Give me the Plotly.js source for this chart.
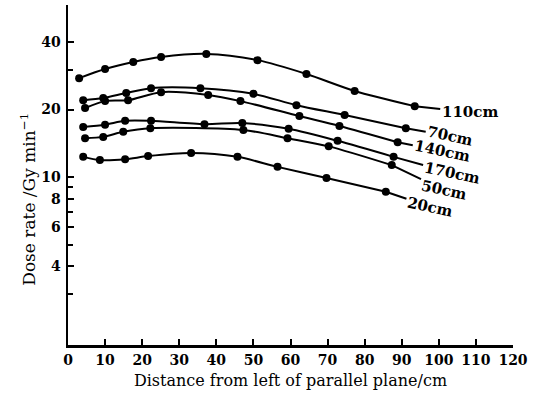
<!DOCTYPE html>
<html>
<head>
<meta charset="utf-8">
<script src="https://cdn.plot.ly/plotly-3.0.1.min.js"></script>
<style>html,body{margin:0;padding:0;background:#fff;}#chart{width:536px;height:397px;}</style>
</head>
<body>
<div id="chart"></div>
<script>
// Data (x: cm from left, y: dose rate Gy/min)
const seriesNames = ["110cm", "70cm", "140cm", "170cm", "50cm", "20cm"];
const x110 = [3.0, 10.0, 17.6, 25.1, 37.3, 51.1, 64.3, 77.3, 93.5];
const y110 = [27.6, 30.3, 32.6, 34.3, 35.4, 33.2, 28.8, 24.2, 20.7];
const x70 = [4.1, 9.5, 15.7, 22.4, 35.7, 50.0, 61.6, 74.6, 91.1];
const y70 = [22.0, 22.5, 23.7, 24.9, 24.9, 23.5, 20.9, 18.9, 16.5];
const x140 = [4.6, 10.0, 16.2, 25.1, 37.8, 46.5, 62.4, 73.2, 88.9];
const y140 = [20.3, 21.8, 22.0, 23.9, 23.2, 21.8, 18.7, 16.9, 14.3];
const x170 = [4.1, 10.0, 15.4, 22.4, 36.8, 47.0, 59.5, 72.7, 87.8];
const y170 = [16.7, 17.1, 17.8, 17.8, 17.2, 17.4, 16.4, 14.5, 12.3];
const x50 = [4.6, 9.5, 14.9, 22.2, 47.3, 59.2, 70.3, 87.3];
const y50 = [14.9, 15.1, 15.9, 16.5, 16.2, 14.9, 13.7, 11.3];
const x20 = [4.1, 8.6, 15.4, 21.6, 33.2, 45.7, 56.5, 69.7, 85.7];
const y20 = [12.3, 11.9, 12.0, 12.4, 12.8, 12.3, 11.1, 9.9, 8.6];

const xTickVals = [0, 10, 20, 30, 40, 50, 60, 70, 80, 90, 100, 110, 120];
const yTickVals = [4, 6, 8, 10, 20, 40];
const yTickText = ["4", "6", "8", "10", "20", "40"];
const yMinorTickVals = [3, 5, 7, 9, 30];

const xs = [x110, x70, x140, x170, x50, x20];
const ys = [y110, y70, y140, y170, y50, y20];
// label offsets in pixels (style only)
const labelOff = [[55, 6], [44, 8], [44, 9], [58, 16], [52, 25], [44, 15]];

const serif = "DejaVu Serif, Liberation Serif, serif";

const traces = xs.map((xv, i) => ({
  x: xv, y: ys[i], name: seriesNames[i], type: "scatter", mode: "lines+markers",
  line: {color: "#000", width: 2, shape: "spline", smoothing: 0.8},
  marker: {color: "#000", size: 8},
  showlegend: false, hoverinfo: "skip"
}));

const annotations = xs.map((xv, i) => ({
  x: xv[xv.length - 1], y: Math.log10(ys[i][ys[i].length - 1]),
  xref: "x", yref: "y", text: seriesNames[i],
  showarrow: true, arrowhead: 0, arrowwidth: 2, arrowcolor: "#000",
  ax: labelOff[i][0], ay: labelOff[i][1], standoff: 0,
  textangle: i === 0 ? 0 : 12,
  font: {family: serif, size: 15, color: "#000", weight: "bold"}
}));
annotations.push({
  xref: "paper", yref: "paper", x: -0.09, y: 0.43, xanchor: "center", yanchor: "middle",
  text: "Dose rate /Gy min<sup>\u22121</sup>", textangle: -90, showarrow: false,
  font: {family: serif, size: 17, color: "#000"}
});

const layout = {
  width: 536, height: 397,
  margin: {l: 68, r: 23, t: 5, b: 52},
  paper_bgcolor: "#fff", plot_bgcolor: "#fff",
  xaxis: {
    range: [0, 120], tickvals: xTickVals, ticks: "inside", ticklen: 6, tickwidth: 2,
    tickcolor: "#000", showline: true, linecolor: "#000", linewidth: 2.5, showgrid: false,
    zeroline: false, ticklabelstandoff: 1,
    tickfont: {family: serif, size: 14, color: "#000", weight: "bold"},
    title: {text: "Distance from left of parallel plane/cm", standoff: 8,
      font: {family: serif, size: 16, color: "#000"}}
  },
  yaxis: {
    type: "log", range: [0.251, 1.767], tickvals: yTickVals, ticktext: yTickText,
    ticks: "inside", ticklen: 6, tickwidth: 2, tickcolor: "#000",
    minor: {tickvals: yMinorTickVals, ticks: "inside", ticklen: 5, tickwidth: 2, tickcolor: "#000", showgrid: false},
    showline: true, linecolor: "#000", linewidth: 2.5, showgrid: false, zeroline: false,
    ticklabelstandoff: 2,
    tickfont: {family: serif, size: 14, color: "#000", weight: "bold"}
  },
  annotations: annotations,
  font: {family: serif, color: "#000"}
};

Plotly.newPlot("chart", traces, layout, {displayModeBar: false, staticPlot: true});
</script>
</body>
</html>
